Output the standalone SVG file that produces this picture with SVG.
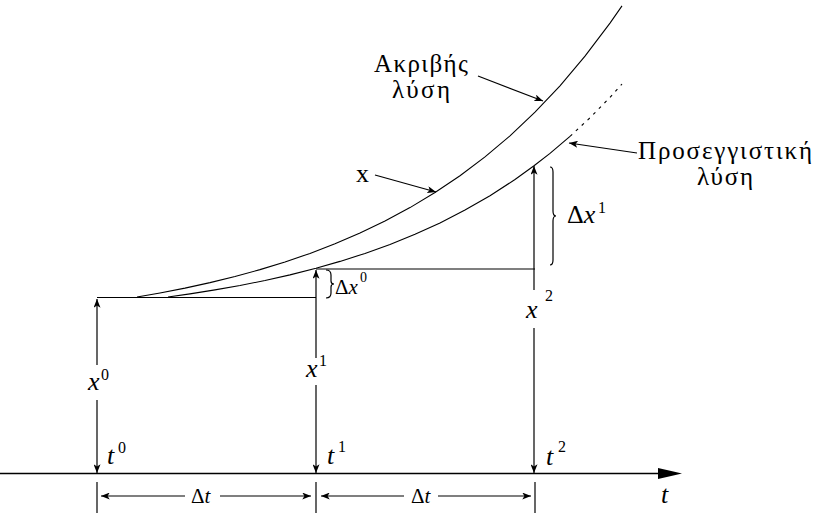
<svg xmlns="http://www.w3.org/2000/svg" width="814" height="513" viewBox="0 0 814 513">
<style>
text{font-family:"Liberation Serif","Times New Roman",serif;fill:#000}
.lbl{font-size:25px}
.it{font-size:26px;font-style:italic}
.sup{font-size:16px}
.sm{font-size:21px}
.ln{stroke:#000;stroke-width:1.2;fill:none}
.cv{stroke:#000;stroke-width:1.1;fill:none}
</style>
<defs>
<marker id="ah" viewBox="0 0 10 8" refX="10" refY="4" markerWidth="9" markerHeight="7" markerUnits="userSpaceOnUse" orient="auto-start-reverse">
<path d="M0,0 L10,4 L0,8 L2.5,4 z" fill="#000"/>
</marker>
</defs>
<g id="axis">
<line x1="0" y1="473.5" x2="662" y2="473.5" stroke="#000" stroke-width="1.6"/>
<polygon points="658,468 669,470.5 682,473.5 669,476.5 658,479" fill="#000"/>
<text x="661" y="503" class="it">t</text>
</g>
<g id="curves">
<polyline id="exact" class="cv" points="137,297 160,293 185,288.1 210,282.6 235,276.5 260,269.6 285,262 310,253.4 335,243.8 360,233.1 385,221.1 410,207.6 435,192.5 460,175.7 485,156.9 510,135.8 535,112.2 560,85.8 585,56.2 610,23.1 622,5.9"/>
<polyline id="approx" class="cv" points="168,297 190,293.9 215,289.9 240,285.5 265,280.5 290,274.9 316,268.3 340,261.4 365,253.4 390,244.4 415,234.3 440,222.9 465,210.1 490,195.7 515,179.5 534,165.8 550,153.4 570,136.4"/>
<polyline id="approx-dash" class="cv" stroke-dasharray="3,5" points="570,136.4 590,117.8 610,97.3 622,84"/>
</g>
<g id="connectors">
<line class="ln" x1="97" y1="297.5" x2="316" y2="297.5"/>
<line class="ln" x1="316" y1="269" x2="535" y2="269"/>
<line class="ln" x1="97" y1="365" x2="97" y2="299" marker-end="url(#ah)"/>
<line class="ln" x1="97" y1="400" x2="97" y2="473" marker-end="url(#ah)"/>
<line class="ln" x1="316" y1="358" x2="316" y2="270" marker-end="url(#ah)"/>
<line class="ln" x1="316" y1="385" x2="316" y2="473" marker-end="url(#ah)"/>
<line class="ln" x1="534" y1="290" x2="534" y2="166" marker-end="url(#ah)"/>
<line class="ln" x1="534" y1="328" x2="534" y2="473" marker-end="url(#ah)"/>
<line class="ln" x1="97" y1="482" x2="97" y2="513"/>
<line class="ln" x1="316" y1="482" x2="316" y2="513"/>
<line class="ln" x1="535" y1="482" x2="535" y2="513"/>
<line class="ln" x1="185" y1="496" x2="101" y2="496" marker-end="url(#ah)"/>
<line class="ln" x1="220" y1="496" x2="311" y2="496" marker-end="url(#ah)"/>
<line class="ln" x1="404" y1="496" x2="321" y2="496" marker-end="url(#ah)"/>
<line class="ln" x1="438" y1="496" x2="531" y2="496" marker-end="url(#ah)"/>
<line class="ln" x1="478" y1="76" x2="543" y2="101" marker-end="url(#ah)"/>
<line class="ln" x1="375" y1="175" x2="436" y2="192" marker-end="url(#ah)"/>
<line class="ln" x1="637" y1="153" x2="569" y2="143" marker-end="url(#ah)"/>
</g>
<g id="exact-label">
<text x="421" y="72" class="lbl" text-anchor="middle" textLength="94">Ακριβής</text>
<text x="421" y="98" class="lbl" text-anchor="middle" textLength="58">λύση</text>
</g>
<g id="approx-label">
<text x="725" y="159" class="lbl" text-anchor="middle" textLength="174">Προσεγγιστική</text>
<text x="725" y="185" class="lbl" text-anchor="middle" textLength="56">λύση</text>
</g>
<g id="x-label"><text x="356" y="182" font-size="26">x</text></g>
<g id="dx0">
<path class="ln" stroke-width="1" d="M326,270 Q331,270 331,275 L331,281 Q331,284 334,284 Q331,284 331,287 L331,293 Q331,298 326,298"/>
<text x="335" y="294" font-size="21">Δ<tspan font-style="italic">x</tspan></text>
<text x="360" y="282" font-size="14">0</text>
</g>
<g id="dx1">
<path class="ln" stroke-width="1" d="M550,167 Q553,167 553,172 L553,211 Q553,216 556,216 Q553,216 553,221 L553,260 Q553,265 550,265"/>
<text x="567" y="223" font-size="26">Δ<tspan font-style="italic">x</tspan></text>
<text x="598" y="213" class="sup">1</text>
</g>
<g id="x0"><text x="88" y="390" class="it">x</text><text x="101" y="380" class="sup">0</text></g>
<g id="x1"><text x="306" y="377" class="it">x</text><text x="319" y="366" class="sup">1</text></g>
<g id="x2"><text x="526" y="318" class="it">x</text><text x="545" y="301" class="sup">2</text></g>
<g id="t0"><text x="107" y="464" class="it">t</text><text x="118" y="453" class="sup">0</text></g>
<g id="t1"><text x="327" y="464" class="it">t</text><text x="338" y="452" class="sup">1</text></g>
<g id="t2"><text x="546" y="465" class="it">t</text><text x="558" y="452" class="sup">2</text></g>
<g id="dt1"><text x="191" y="503" class="sm">Δ<tspan font-style="italic">t</tspan></text></g>
<g id="dt2"><text x="411" y="503" class="sm">Δ<tspan font-style="italic">t</tspan></text></g>
</svg>
